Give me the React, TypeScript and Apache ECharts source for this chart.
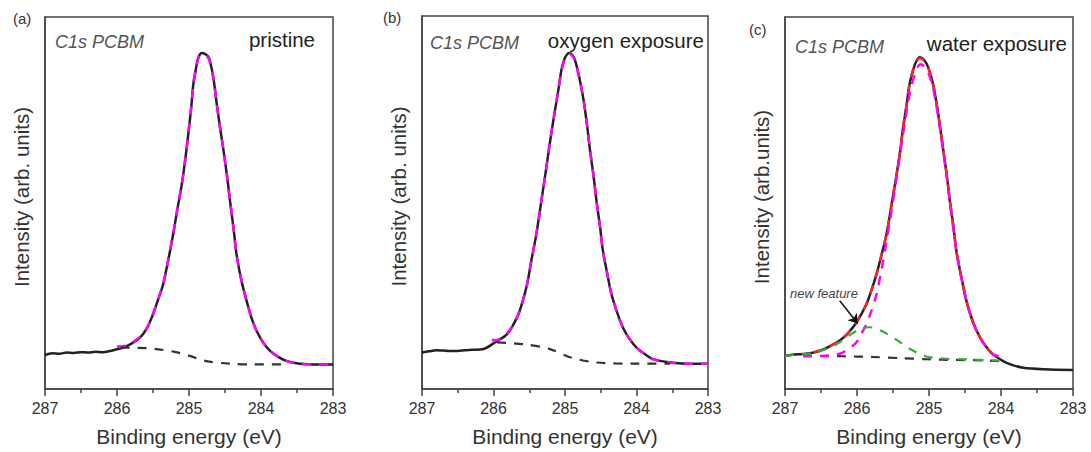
import React, { useEffect, useRef } from "react";
import * as echarts from "echarts";

const xTicks = [287, 286, 285, 284, 283];

// Panel (a) pristine
const expA: number[][] = [
  [287.0, 9.1], [286.9, 9.6], [286.8, 9.5], [286.7, 9.8], [286.6, 9.7], [286.5, 9.9], [286.4, 9.8],
  [286.3, 10.0], [286.2, 9.9], [286.1, 10.2], [286.0, 10.7], [285.91, 11.1], [285.8, 12.2], [285.68, 13.8],
  [285.58, 16.5], [285.5, 20.1], [285.43, 24.0], [285.36, 28.1], [285.29, 34.5], [285.22, 41.6],
  [285.16, 48.5], [285.1, 55.0], [285.05, 62.0], [285.01, 68.5], [284.97, 75.5], [284.94, 81.9],
  [284.9, 86.5], [284.87, 89.1], [284.82, 90.3], [284.78, 90.1], [284.74, 89.5], [284.71, 88.2],
  [284.66, 83.5], [284.62, 77.4], [284.57, 70.5], [284.52, 64.0], [284.47, 57.0], [284.43, 50.5],
  [284.38, 43.0], [284.34, 36.2], [284.27, 29.0], [284.2, 23.7], [284.13, 19.0], [284.06, 15.6],
  [283.97, 12.5], [283.87, 10.2], [283.75, 8.5], [283.64, 7.5], [283.46, 6.8], [283.2, 6.6], [283.0, 6.6],
];
const fitA: number[][] = [
  [286.0, 11.4], [285.91, 11.5], [285.8, 12.4], [285.68, 14.0], [285.58, 16.6], [285.5, 20.1],
  [285.43, 24.0], [285.36, 28.1], [285.29, 34.5], [285.22, 41.6], [285.16, 48.5], [285.1, 55.0],
  [285.05, 62.0], [285.01, 68.5], [284.97, 75.5], [284.94, 81.9], [284.9, 86.3], [284.87, 88.9],
  [284.82, 90.0], [284.78, 89.8], [284.74, 89.2], [284.71, 88.0], [284.66, 83.5], [284.62, 77.4],
  [284.57, 70.5], [284.52, 64.0], [284.47, 57.0], [284.43, 50.5], [284.38, 43.0], [284.34, 36.2],
  [284.27, 29.0], [284.2, 23.7], [284.13, 19.0], [284.06, 15.6], [283.97, 12.5], [283.87, 10.2],
  [283.75, 8.5], [283.64, 7.5], [283.46, 6.8], [283.2, 6.6], [283.0, 6.6],
];
const bgA: number[][] = [
  [285.95, 11.1], [285.6, 11.0], [285.4, 10.6], [285.2, 10.0], [284.99, 8.9], [284.76, 7.5],
  [284.43, 6.8], [284.1, 6.6], [283.7, 6.6],
];

// Panel (b) oxygen exposure
const expB: number[][] = [
  [287.0, 9.8], [286.9, 10.1], [286.8, 10.4], [286.7, 10.3], [286.6, 10.2], [286.5, 10.2], [286.4, 10.4],
  [286.3, 10.5], [286.14, 10.7], [285.98, 12.5], [285.81, 14.7], [285.67, 19.2], [285.6, 23.0],
  [285.53, 28.1], [285.47, 34.5], [285.4, 41.6], [285.33, 50.5], [285.26, 59.5], [285.2, 67.5],
  [285.14, 74.7], [285.09, 80.5], [285.05, 85.5], [285.0, 88.8], [284.94, 90.1], [284.9, 89.6],
  [284.86, 88.2], [284.8, 83.5], [284.74, 77.4], [284.69, 70.5], [284.65, 64.0], [284.6, 57.0],
  [284.56, 50.5], [284.51, 43.5], [284.47, 37.1], [284.41, 31.0], [284.35, 25.4], [284.27, 20.5],
  [284.19, 16.5], [284.1, 13.5], [284.0, 11.1], [283.88, 9.3], [283.77, 8.0], [283.53, 7.1],
  [283.3, 6.8], [283.0, 6.8],
];
const fitB: number[][] = [
  [286.02, 13.3], [285.98, 13.0], [285.81, 14.9], [285.67, 19.2], [285.6, 23.0], [285.53, 28.1],
  [285.47, 34.5], [285.4, 41.6], [285.33, 50.5], [285.26, 59.5], [285.2, 67.5], [285.14, 74.7],
  [285.09, 80.5], [285.05, 85.3], [285.0, 88.5], [284.94, 89.8], [284.9, 89.4], [284.86, 88.0],
  [284.8, 83.5], [284.74, 77.4], [284.69, 70.5], [284.65, 64.0], [284.6, 57.0], [284.56, 50.5],
  [284.51, 43.5], [284.47, 37.1], [284.41, 31.0], [284.35, 25.4], [284.27, 20.5], [284.19, 16.5],
  [284.1, 13.5], [284.0, 11.1], [283.88, 9.3], [283.77, 8.0], [283.53, 7.1], [283.3, 6.8], [283.0, 6.8],
];
const bgB: number[][] = [
  [285.95, 12.5], [285.53, 11.9], [285.21, 10.7], [284.93, 8.5], [284.56, 7.1], [284.0, 6.8],
  [283.53, 6.8],
];

// Panel (c) water exposure
const expC: number[][] = [
  [287.0, 8.9], [286.9, 9.2], [286.75, 9.4], [286.65, 9.6], [286.56, 10.0], [286.45, 10.8],
  [286.33, 12.0], [286.23, 13.2], [286.14, 14.7], [286.01, 17.8], [285.87, 22.8], [285.8, 26.5],
  [285.73, 30.8], [285.66, 36.0], [285.59, 41.6], [285.52, 49.5], [285.45, 57.7], [285.4, 64.0],
  [285.36, 70.2], [285.31, 76.5], [285.27, 81.9], [285.2, 87.0], [285.13, 89.2], [285.07, 88.5],
  [285.01, 86.4], [284.95, 82.5], [284.9, 77.4], [284.85, 71.0], [284.8, 64.0], [284.75, 57.0],
  [284.71, 50.5], [284.66, 43.5], [284.62, 37.1], [284.55, 30.0], [284.48, 23.7], [284.39, 18.0],
  [284.29, 13.8], [284.2, 11.2], [284.11, 9.3], [283.97, 7.5], [283.85, 6.5], [283.69, 5.7],
  [283.4, 5.3], [283.0, 5.1],
];
const sumFitC: number[][] = [
  [286.6, 9.9], [286.45, 10.8], [286.33, 12.0], [286.23, 13.2], [286.14, 14.7], [286.01, 17.8],
  [285.87, 22.8], [285.8, 26.5], [285.73, 30.8], [285.66, 36.0], [285.59, 41.6], [285.52, 49.5],
  [285.45, 57.7], [285.4, 64.0], [285.36, 70.2], [285.31, 76.5], [285.27, 81.9], [285.2, 86.8],
  [285.13, 88.9], [285.07, 88.3], [285.01, 86.2], [284.95, 82.5], [284.9, 77.4], [284.85, 71.0],
  [284.8, 64.0], [284.75, 57.0], [284.71, 50.5], [284.66, 43.5], [284.62, 37.1], [284.55, 30.0],
  [284.48, 23.7], [284.39, 18.0], [284.29, 13.8], [284.2, 11.2], [284.11, 9.3], [284.0, 8.2],
];
const mainFitC: number[][] = [
  [286.75, 8.8], [286.5, 8.9], [286.3, 9.2], [286.2, 9.8], [286.1, 11.0], [286.01, 12.5],
  [285.94, 14.8], [285.87, 17.4], [285.8, 21.0], [285.73, 25.4], [285.66, 32.0], [285.59, 39.8],
  [285.52, 48.0], [285.45, 56.8], [285.38, 66.0], [285.31, 74.7], [285.25, 81.0], [285.18, 85.5],
  [285.12, 87.3], [285.05, 86.5], [285.0, 84.5], [284.95, 81.5], [284.9, 76.5], [284.85, 70.5],
  [284.8, 63.5], [284.75, 56.5], [284.71, 50.5], [284.62, 37.1], [284.55, 30.0], [284.48, 23.7],
  [284.39, 18.0], [284.29, 13.8], [284.2, 11.2], [284.11, 9.3], [283.97, 8.6],
];
const newFeatureC: number[][] = [
  [287.0, 8.9], [286.8, 9.3], [286.6, 9.6], [286.45, 10.6], [286.3, 11.8], [286.1, 14.5],
  [285.95, 16.2], [285.82, 16.6], [285.65, 15.5], [285.45, 13.2], [285.25, 10.6], [285.05, 8.8],
  [284.8, 8.2], [284.4, 7.9], [284.02, 7.6],
];
const bgC: number[][] = [
  [286.75, 8.9], [286.2, 8.8], [285.77, 8.6], [285.4, 8.3], [285.03, 8.0], [284.6, 7.8],
  [284.29, 7.7], [284.02, 7.5],
];
const arrowC = { from: [286.24, 23.7], to: [285.99, 17.6] };

const FONT = "'Liberation Sans', Arial, sans-serif";
const AXIS_COLOR = "#444";
const TEXT_COLOR = "#333";

const panels = [
  { left: 45, top: 17, width: 288, height: 372, yName: "Intensity (arb. units)" },
  { left: 422, top: 16, width: 286, height: 373, yName: "Intensity (arb. units)" },
  { left: 785, top: 17, width: 288, height: 372, yName: "Intensity (arb.units)" },
];

export default function App() {
  const ref = useRef<HTMLDivElement>(null);
  useEffect(() => {
    document.body.style.margin = "0";
    const chart = echarts.init(ref.current!, null, { renderer: "svg" });

    const grid = panels.map((p) => ({
      left: p.left,
      top: p.top,
      width: p.width,
      height: p.height,
      show: true,
      borderColor: AXIS_COLOR,
      borderWidth: 1.5,
      backgroundColor: "transparent",
    }));
    const xAxis = panels.map((_, i) => ({
      type: "value",
      gridIndex: i,
      min: 283,
      max: 287,
      interval: 1,
      inverse: true,
      name: "Binding energy (eV)",
      nameLocation: "middle",
      nameGap: 37,
      nameTextStyle: { fontFamily: FONT, fontSize: 21, color: TEXT_COLOR },
      axisLine: { show: true, lineStyle: { color: AXIS_COLOR, width: 1.5 } },
      axisTick: { show: true, inside: false, length: 7, lineStyle: { color: AXIS_COLOR, width: 1.5 } },
      minorTick: { show: true, splitNumber: 2, length: 4, lineStyle: { color: AXIS_COLOR, width: 1.5 } },
      axisLabel: {
        margin: 11,
        fontFamily: FONT,
        fontSize: 16,
        color: TEXT_COLOR,
        formatter: (v: number) => (xTicks.includes(v) ? String(v) : ""),
      },
      splitLine: { show: false },
    }));
    const yAxis = panels.map((p, i) => ({
      type: "value",
      gridIndex: i,
      min: 0,
      max: 100,
      name: p.yName,
      nameLocation: "middle",
      nameGap: 13,
      nameTextStyle: { fontFamily: FONT, fontSize: 20.5, color: TEXT_COLOR, padding: [0, 0, 0, 12] },
      axisLine: { show: true, lineStyle: { color: AXIS_COLOR, width: 1.5 } },
      axisTick: { show: false },
      axisLabel: { show: false },
      splitLine: { show: false },
    }));

    const solid = (data: number[][], i: number, z = 2) => ({
      type: "line",
      xAxisIndex: i,
      yAxisIndex: i,
      data,
      smooth: 0.3,
      showSymbol: false,
      symbol: "none",
      z,
      lineStyle: { color: "#222", width: 2.5 },
    });
    const dashed = (data: number[][], i: number, color: string, z: number, width = 2.2) => ({
      type: "line",
      xAxisIndex: i,
      yAxisIndex: i,
      data,
      smooth: 0.3,
      showSymbol: false,
      symbol: "none",
      z,
      lineStyle: { color, width, type: [9, 8] },
    });

    const series: any[] = [
      solid(expA, 0),
      dashed(fitA, 0, "#ff00ff", 3, 2.5),
      dashed(bgA, 0, "#333", 3),
      solid(expB, 1),
      dashed(fitB, 1, "#ff00ff", 3, 2.5),
      dashed(bgB, 1, "#333", 3),
      {
        ...solid(expC, 2),
        markLine: {
          silent: true,
          symbol: ["none", "arrow"],
          symbolSize: 9,
          label: { show: false },
          lineStyle: { color: "#111", width: 1.5, type: "solid" },
          data: [[{ coord: arrowC.from }, { coord: arrowC.to }]],
        },
      },
      dashed(sumFitC, 2, "#ff2020", 3, 2.5),
      dashed(mainFitC, 2, "#ff00ff", 4, 2.5),
      dashed(newFeatureC, 2, "#3aaa35", 4),
      dashed(bgC, 2, "#333", 3),
    ];

    const txt = (x: number, y: number, text: string, size: number, opts: any = {}) => ({
      type: "text",
      x,
      y,
      style: {
        text,
        fontFamily: FONT,
        fontSize: size,
        fill: opts.fill || "#222",
        fontStyle: opts.italic ? "italic" : "normal",
        textAlign: opts.align || "left",
        textVerticalAlign: "middle",
      },
      z: 10,
    });

    const graphic = [
      txt(13, 18, "(a)", 15, { fill: "#333" }),
      txt(383, 17, "(b)", 15, { fill: "#333" }),
      txt(749, 29, "(c)", 15, { fill: "#333" }),
      txt(55, 42, "C1s PCBM", 18, { italic: true, fill: "#555" }),
      txt(430, 43, "C1s PCBM", 18, { italic: true, fill: "#555" }),
      txt(795, 47, "C1s PCBM", 18, { italic: true, fill: "#555" }),
      txt(315, 39, "pristine", 20.5, { align: "right" }),
      txt(704, 40, "oxygen exposure", 20.5, { align: "right" }),
      txt(1067, 43, "water exposure", 20.5, { align: "right" }),
      txt(790, 293, "new feature", 13, { italic: true, fill: "#444" }),
    ];

    chart.setOption({
      animation: false,
      backgroundColor: "#fff",
      grid,
      xAxis,
      yAxis,
      series,
      graphic,
    });
    return () => chart.dispose();
  }, []);
  return <div ref={ref} style={{ width: 1091, height: 452 }} />;
}
